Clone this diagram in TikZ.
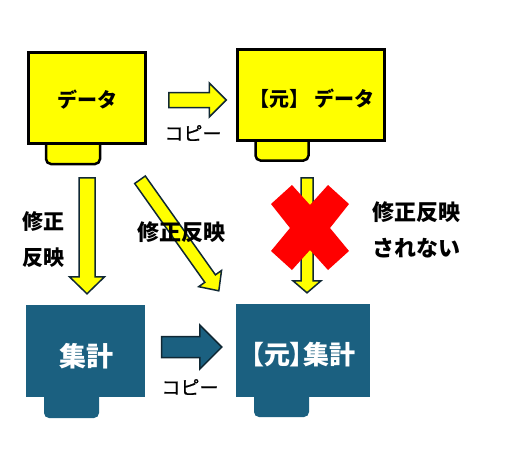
\documentclass[tikz,border=0pt]{standalone}
\usepackage{fontspec}
\newfontfamily\jpfont{Noto Sans CJK JP}
\newfontfamily\jpprop[CharacterWidth=AlternateProportional]{Noto Sans CJK JP}
\newfontfamily\jpmed[FakeBold=0.6]{Noto Sans CJK JP}
\usepackage{tikz}
\usetikzlibrary{calc,positioning}
\definecolor{boxyellow}{RGB}{255,255,0}
\definecolor{crossred}{RGB}{255,0,0}
\definecolor{boxteal}{RGB}{27,96,128}
\definecolor{arrowedge}{RGB}{16,40,52}
% block arrow: [style]{from}{to}{shaft half width}{head half width}{head length}
\newcommand{\blockarrow}[6][yarrow]{%
  \coordinate (arrowbase) at ($(#3)!#6!(#2)$);
  \draw[#1] ($(#2)!#4!90:(#3)$) -- ($(arrowbase)!#4!90:(#3)$) -- ($(arrowbase)!#5!90:(#3)$) -- (#3)
    -- ($(arrowbase)!#5!-90:(#3)$) -- ($(arrowbase)!#4!-90:(#3)$) -- ($(#2)!#4!-90:(#3)$) -- cycle;}
\begin{document}
\begin{tikzpicture}[x=1pt,y=-1pt,
    databox/.style={draw, line width=2.5pt, fill=boxyellow},
    sumbox/.style={fill=boxteal},
    datatab/.style={draw, line width=2.5pt, fill=boxyellow, rounded corners=5pt},
    sumtab/.style={fill=boxteal, rounded corners=5pt},
    yarrow/.style={draw=arrowedge, fill=boxyellow, line width=1.5pt},
    tarrow/.style={draw=arrowedge, fill=boxteal, line width=1.5pt},
    lbl/.style={font=\jpfont\bfseries\fontsize{21}{36}\selectfont, align=left, inner sep=0pt},
    copylbl/.style={font=\jpmed\fontsize{19}{22}\selectfont, inner sep=0pt}]
  \useasboundingbox (0,0) rectangle (522,448);
  \coordinate (dataC) at (87,98);
  \coordinate (origC) at (311,95);
  \coordinate (sumC) at (85.5,351);
  \coordinate (origsumC) at (303,350.5);
  % tabs under the boxes
  \draw[datatab] ($(dataC)+(-41,40)$) rectangle ($(dataC)+(13,66)$);
  \draw[datatab] ($(origC)+(-55.5,40)$) rectangle ($(origC)+(-2.5,65.5)$);
  \fill[sumtab] ($(sumC)+(-41.5,40)$) rectangle ($(sumC)+(13.5,67)$);
  \fill[sumtab] ($(origsumC)+(-49,40)$) rectangle ($(origsumC)+(6,66.5)$);
  % boxes
  \node[databox, minimum width=117pt, minimum height=91pt] (data) at (dataC) {};
  \node[databox, minimum width=147pt, minimum height=91pt] (orig) at (origC) {};
  \node[sumbox, minimum width=119pt, minimum height=92pt] (sum) at (sumC) {};
  \node[sumbox, minimum width=134pt, minimum height=93pt] (origsum) at (origsumC) {};
  \node[font=\jpfont\bfseries\fontsize{20}{24}\selectfont] (datatxt) at ($(data)+(0,2)$) {データ};
  \node[font=\jpfont\bfseries\fontsize{20}{24}\selectfont] (origtxt) at ($(orig)+(1,4)$) {【元】 データ};
  \node[font=\jpfont\bfseries\fontsize{27}{30}\selectfont, text=white] (sumtxt) at ($(sum)+(0.5,5)$) {集計};
  \node[font=\jpprop\bfseries\fontsize{26}{30}\selectfont, text=white] (origsumtxt) at ($(origsum)+(0,4.5)$) {【元】集計};
  % arrows
  \coordinate (cpA1) at ($(data.east)+(22,2)$);
  \coordinate (cpA2) at ($(orig.west)+(-10,5)$);
  \coordinate (cpB1) at ($(sum.east)+(16.5,-4)$);
  \coordinate (cpB2) at ($(origsum.west)+(-14,-3.5)$);
  \coordinate (fixA1) at ($(data.south)+(0,33)$);
  \coordinate (fixA2) at ($(sum.north)+(1.5,-11)$);
  \coordinate (fixB1) at ($(data.south east)+(-6.75,35)$);
  \coordinate (fixB2) at ($(origsum.north west)+(-17,-13)$);
  \coordinate (fixC1) at ($(orig.south)+(-4,36)$);
  \coordinate (fixC2) at ($(origsum.north)+(4,-11)$);
  \blockarrow{cpA1}{cpA2}{7.5pt}{17pt}{17pt}
  \blockarrow[tarrow]{cpB1}{cpB2}{10.5pt}{22pt}{22pt}
  \blockarrow{fixA1}{fixA2}{8pt}{17.5pt}{17pt}
  \blockarrow{fixB1}{fixB2}{6.5pt}{14pt}{15pt}
  \blockarrow{fixC1}{fixC2}{6pt}{14pt}{12pt}
  % red cross
  \coordinate (nomark) at (310,228);
  \fill[crossred] ($(nomark)+(-18,-43)$) -- ($(nomark)+(0,-23)$) -- ($(nomark)+(18,-43)$) -- ($(nomark)+(39,-24)$)
    -- ($(nomark)+(20,0)$) -- ($(nomark)+(39,23)$) -- ($(nomark)+(18,42)$) -- ($(nomark)+(0,22)$)
    -- ($(nomark)+(-18,42)$) -- ($(nomark)+(-39,23)$) -- ($(nomark)+(-20,0)$) -- ($(nomark)+(-39,-24)$) -- cycle;
  % labels
  \node[copylbl] (cpAlbl) at (193,133) {コピー};
  \node[copylbl] (cpBlbl) at (190,387) {コピー};
  \node[lbl] (fixAlbl) at (43,240) {修正\\反映};
  \node[lbl, font=\jpfont\bfseries\fontsize{22}{36}\selectfont] (fixBlbl) at (181,232) {修正反映};
  \node[lbl, anchor=west, font=\jpfont\bfseries\fontsize{22}{36}\selectfont] (fixClbl) at (372,230) {修正反映\\されない};
\end{tikzpicture}
\end{document}
